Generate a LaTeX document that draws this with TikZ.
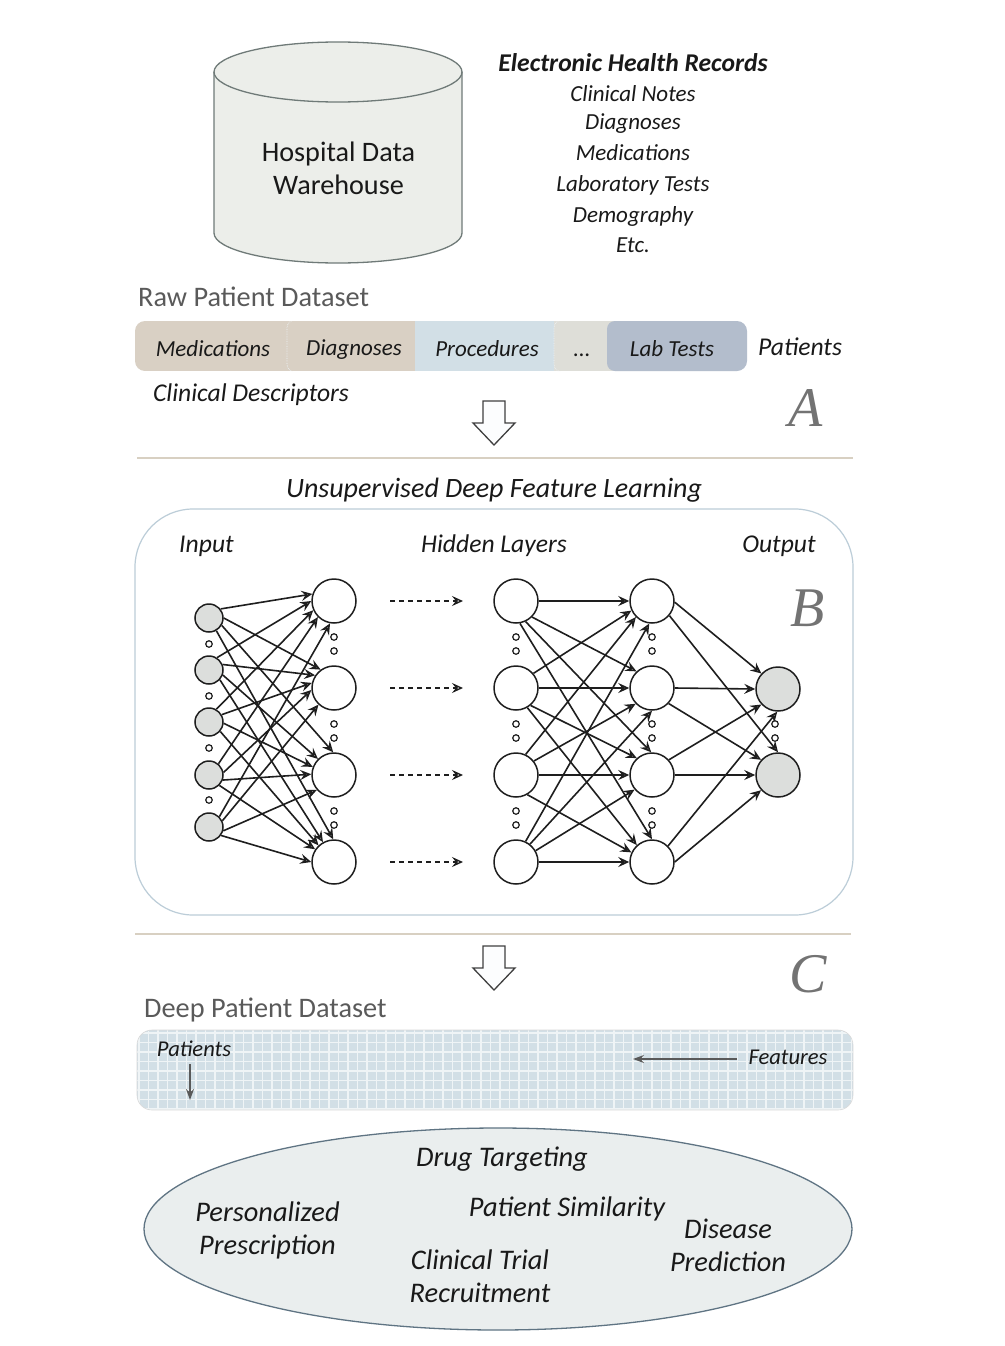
\documentclass[tikz,border=0pt]{standalone}
\usepackage{fontspec}
\setmainfont{Carlito}
\newfontfamily\letterfont{Liberation Serif}
\usetikzlibrary{arrows.meta,calc}
\definecolor{tanfill}{HTML}{D9D0C4}
\definecolor{bluefill}{HTML}{D2DFE6}
\definecolor{grayfill}{HTML}{DEDED8}
\definecolor{labfill}{HTML}{B3BDCC}
\definecolor{cylfill}{HTML}{ECEEEA}
\definecolor{cylline}{HTML}{6F7A78}
\definecolor{nodegray}{HTML}{DCDEDC}
\definecolor{panelline}{HTML}{BCCDD8}
\definecolor{rulecolor}{HTML}{D8D0C2}
\definecolor{headgray}{HTML}{5A5A5A}
\definecolor{ellfill}{HTML}{EAEEEE}
\definecolor{ellline}{HTML}{5F7483}
\definecolor{inkline}{HTML}{1E1E1E}
\tikzset{
  x=1pt,y=-1pt,
  txt/.style={inner sep=0pt,font=\fontsize{#1}{#1}\selectfont\itshape,text=black!90},
  txt/.default=24,
  head/.style={inner sep=0pt,anchor=base west,font=\fontsize{28.3}{28.3}\selectfont,text=headgray},
  big/.style={inner sep=0pt,font=\fontsize{56}{56}\selectfont\letterfont\itshape,text=black!55},
  inp/.style={circle,draw=inkline,fill=nodegray,line width=1.5pt,minimum size=28pt,inner sep=0pt},
  hid/.style={circle,draw=inkline,fill=white,line width=1.5pt,minimum size=44pt,inner sep=0pt},
  outp/.style={circle,draw=inkline,fill=nodegray,line width=1.5pt,minimum size=44pt,inner sep=0pt},
  edge/.style={-{Stealth[open,fill=none,length=11pt,width=10pt,inset=4pt]},draw=inkline,line width=1.6pt},
  dashedge/.style={edge,dashed,dash pattern=on 5pt off 4pt,line width=1.4pt},
  dot/.style={circle,draw=inkline,line width=1.2pt,minimum size=6.5pt,inner sep=0pt,fill=white},
  blockarrow/.style={draw=black!75,fill=white!94!bluefill,line width=1.3pt,line join=miter},
  thinarrow/.style={-{Stealth[length=11pt,width=8pt]},draw=black!65,line width=1.4pt},
  divider/.style={draw=rulecolor,line width=1.2pt},
  segedge/.style={draw=white!60!bluefill,line width=.7pt,densely dotted},
}
\begin{document}
\begin{tikzpicture}
\useasboundingbox[fill=white] (0,0) rectangle (1004,1346);
% cylinder
\path[fill=cylfill,draw=cylline,line width=1.3pt] (214,72) -- (214,233) arc[start angle=180,end angle=360,x radius=124,y radius=-30] -- (462,72) arc[start angle=0,end angle=180,x radius=124,y radius=-30] -- cycle;
\draw[cylline,line width=1.3pt] (214,72) arc[start angle=180,end angle=360,x radius=124,y radius=-30];
\node[inner sep=0pt,align=center,font=\fontsize{28.2}{33}\selectfont,text=black!90] (warehouse) at (338.5,168) {Hospital Data\\Warehouse};
% EHR
\node[txt=26,font=\fontsize{25.6}{26}\selectfont\itshape\bfseries] (ehr) at (633,63) {Electronic Health Records};
\node[txt=23] (t1) at (633,94) {Clinical Notes};
\node[txt=23] (t2) at (633,124) {Diagnoses};
\node[txt=23] (t3) at (633,153) {Medications};
\node[txt=23] (t4) at (633,185) {Laboratory Tests};
\node[txt=23] (t5) at (633,216) {Demography};
\node[txt=23] (t6) at (633,245.5) {Etc.};
% raw
\node[head] (raw) at (138,306) {Raw Patient Dataset};
\begin{scope}
\clip[rounded corners=10pt] (135,321) rectangle (747,371);
\fill[tanfill] (135,321) rectangle (300,371);
\fill[tanfill] (287,321) rectangle (430,371);
\fill[bluefill] (415,321) rectangle (570,371);
\fill[grayfill] (554,321) rectangle (620,371);
\fill[labfill,rounded corners=8pt] (607,321) rectangle (760,371);
\draw[segedge,rounded corners=8pt] (300,320) -- (287,320) -- (287,372) -- (300,372);
\draw[segedge,rounded corners=8pt] (570,320) -- (554,320) -- (554,372) -- (570,372);
\end{scope}
\node[txt=23] (med) at (213,348.5) {Medications};
\node[txt=23] (dia) at (354,349.5) {Diagnoses};
\node[txt=23] (pro) at (487,348.5) {Procedures};
\node[txt=23,anchor=base] (ell) at (582,356) {{.}{.}{.}};
\node[txt=23] (lab) at (672,348.5) {Lab Tests};
\node[txt=25.6] (pat) at (800,347) {Patients};
\node[txt=25.6] (cd) at (251,395) {Clinical Descriptors};
\node[big] (A) at (806,408) {A};
\path[blockarrow] (483,401) -- (505,401) -- (505,423) -- (515,423) -- (494,445) -- (473,423) -- (483,423) -- cycle;
\draw[divider] (137,458) -- (853,458);
% panel
\node[txt=28] (udfl) at (494,490) {Unsupervised Deep Feature Learning};
\draw[panelline,line width=1.2pt,rounded corners=58pt] (135,509) rectangle (853,915);
\node[txt=25.6] (input) at (206.5,546) {Input};
\node[txt=25.6] (hidl) at (494,546) {Hidden Layers};
\node[txt=25.6] (output) at (779,546) {Output};
\node[big] (B) at (808,608) {B};
% network nodes
\foreach \i/\y in {1/618,2/670,3/722,4/775,5/827} \node[inp] (i\i) at (209,\y) {};
\foreach \i/\y in {1/601,2/688,3/775,4/862} {
  \node[hid] (a\i) at (334,\y) {};
  \node[hid] (b\i) at (516,\y) {};
  \node[hid] (c\i) at (652,\y) {};
  \coordinate (ds\i) at (390,\y);
  \coordinate (de\i) at (463,\y);
  \draw[dashedge] (ds\i) -- (de\i);
}
\node[outp] (o1) at (778,689) {};
\node[outp] (o2) at (778,775) {};
% input to first hidden layer: source/angle/target/angle
\foreach \s/\sa/\t/\ta in {
  i1/38/a1/162, i1/0/a2/126, i1/330/a3/92, i1/300/a4/92,
  i2/57/a1/180, i2/22/a2/146, i2/340/a3/135, i2/318/a4/119,
  i3/60/a1/204, i3/30/a2/167, i3/355/a3/159, i3/320/a4/133,
  i4/50/a1/225, i4/10/a2/185, i4/340/a3/178, i4/315/a4/146,
  i5/45/a1/260, i5/25/a2/227, i5/345/a3/221, i5/325/a4/180}
  \draw[edge] (\s.\sa) -- (\t.\ta);
% last hidden layers
\foreach \s/\sa/\t/\ta in {
  b1/0/c1/180, b1/315/c2/133, b1/295/c3/92, b1/280/c4/90,
  b2/40/c1/205, b2/0/c2/180, b2/310/c3/132, b2/300/c4/132,
  b3/65/c1/225, b3/38/c2/224, b3/0/c3/180, b3/300/c4/155,
  b4/65/c1/263, b4/52/c2/270, b4/30/c3/220, b4/0/c4/180,
  c1/357/o1/137, c1/320/o2/90, c2/0/o1/180, c2/317/o2/138,
  c3/42/o1/223, c3/0/o2/180, c4/45/o1/268, c4/0/o2/222}
  \draw[edge] (\s.\sa) -- (\t.\ta);
% dots
\foreach \y [count=\k] in {644,696,748,800} \node[dot] (di\k) at (209,\y) {};
\foreach \x/\n in {334/a,516/b,652/c} \foreach \y [count=\k] in {637,651,724,738,811,825} \node[dot] (d\n\k) at (\x,\y) {};
\node[dot] (do1) at (775,724) {};
\node[dot] (do2) at (775,738) {};
\draw[divider] (135,934) -- (851,934);
\path[blockarrow] (483,946) -- (505,946) -- (505,968) -- (515,968) -- (494,990) -- (473,968) -- (483,968) -- cycle;
\node[big] (C) at (808,974) {C};
% deep
\node[head] (deep) at (144,1017) {Deep Patient Dataset};
\begin{scope}
\clip[rounded corners=15pt] (137,1030) rectangle (853,1110);
\fill[bluefill] (137,1030) rectangle (853,1110);
\foreach \x in {0,...,75} \draw[white!65!bluefill,line width=1.6pt] ({139+9.5*\x},1030) -- ({139+9.5*\x},1110);
\foreach \y in {0,...,8} \draw[white!65!bluefill,line width=1.6pt] (137,{1033+9.5*\y}) -- (853,{1033+9.5*\y});
\end{scope}
\draw[black!15,line width=.6pt,rounded corners=15pt] (137,1030) rectangle (853,1110);
\node[txt=22.6] (dp) at (194,1049) {Patients};
\node[txt=22.6] (df) at (788,1057) {Features};
\coordinate (pa1) at (190,1064);
\coordinate (pa2) at (190,1100);
\coordinate (fa1) at (737,1059);
\coordinate (fa2) at (633,1059);
\draw[thinarrow] (pa1) -- (pa2);
\draw[thinarrow] (fa1) -- (fa2);
% ellipse
\draw[fill=ellfill,draw=ellline,line width=1.3pt] (498,1229) ellipse [x radius=354,y radius=101];
\node[txt=28.4] (drug) at (502,1159) {Drug Targeting};
\node[txt=28.4,align=center,font=\fontsize{28.4}{33}\selectfont\itshape] (pers) at (267.5,1230) {Personalized\\Prescription};
\node[txt=28.4] (sim) at (567,1208.5) {Patient Similarity};
\node[txt=28.4,align=center,font=\fontsize{28.4}{33}\selectfont\itshape] (dis) at (728,1245) {Disease\\Prediction};
\node[txt=28.4,align=center,font=\fontsize{28.4}{33}\selectfont\itshape] (trial) at (480,1276) {Clinical Trial\\Recruitment};
\end{tikzpicture}
\end{document}
